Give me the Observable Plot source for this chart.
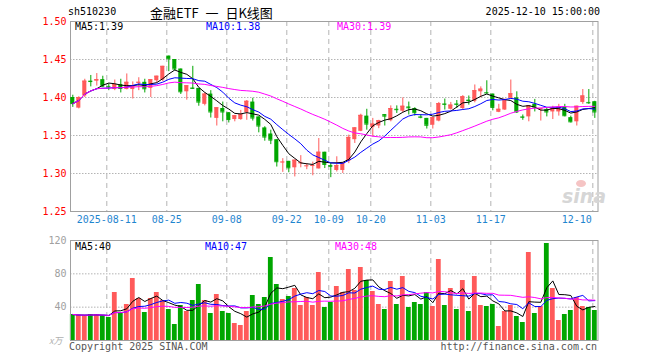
<!DOCTYPE html>
<html><head><meta charset="utf-8">
<script src="https://cdn.jsdelivr.net/npm/d3@7"></script>
<script src="https://cdn.jsdelivr.net/npm/@observablehq/plot@0.6"></script>
<style>
body{margin:0;background:#fff;}
#c{position:relative;width:660px;height:360px;overflow:hidden;background:#fff;}
#c svg{position:absolute;left:0;}
.t{position:absolute;white-space:pre;font-family:"DejaVu Sans Mono",monospace;font-size:10px;line-height:10px;}
</style></head><body><div id="c"></div>
<script>
const dates = ["2025-08-01","2025-08-04","2025-08-05","2025-08-06","2025-08-07","2025-08-08","2025-08-11","2025-08-12","2025-08-13","2025-08-14","2025-08-15","2025-08-18","2025-08-19","2025-08-20","2025-08-21","2025-08-22","2025-08-25","2025-08-26","2025-08-27","2025-08-28","2025-08-29","2025-09-01","2025-09-02","2025-09-03","2025-09-04","2025-09-05","2025-09-08","2025-09-09","2025-09-10","2025-09-11","2025-09-12","2025-09-15","2025-09-16","2025-09-17","2025-09-18","2025-09-19","2025-09-22","2025-09-23","2025-09-24","2025-09-25","2025-09-26","2025-09-29","2025-09-30","2025-10-09","2025-10-10","2025-10-13","2025-10-14","2025-10-15","2025-10-16","2025-10-17","2025-10-20","2025-10-21","2025-10-22","2025-10-23","2025-10-24","2025-10-27","2025-10-28","2025-10-29","2025-10-30","2025-10-31","2025-11-03","2025-11-04","2025-11-05","2025-11-06","2025-11-07","2025-11-10","2025-11-11","2025-11-12","2025-11-13","2025-11-14","2025-11-17","2025-11-18","2025-11-19","2025-11-20","2025-11-21","2025-11-24","2025-11-25","2025-11-26","2025-11-27","2025-11-28","2025-12-01","2025-12-02","2025-12-03","2025-12-04","2025-12-05","2025-12-08","2025-12-09","2025-12-10"];
const opens = [1.400,1.386,1.402,1.4215,1.4215,1.4235,1.4145,1.4105,1.417,1.4105,1.4105,1.419,1.420,1.412,1.422,1.423,1.4545,1.450,1.4375,1.4075,1.4125,1.412,1.391,1.4045,1.3725,1.3855,1.380,1.371,1.371,1.380,1.394,1.3745,1.360,1.352,1.3445,1.3145,1.316,1.3075,1.3135,1.3095,1.310,1.306,1.328,1.3105,1.304,1.304,1.316,1.3445,1.3555,1.3755,1.3605,1.3625,1.3775,1.3695,1.3845,1.382,1.3875,1.3855,1.3745,1.3725,1.3635,1.369,1.3915,1.3845,1.3915,1.3855,1.3965,1.395,1.4075,1.4065,1.4045,1.3805,1.3835,1.399,1.3995,1.3745,1.3745,1.391,1.384,1.384,1.381,1.381,1.387,1.3735,1.368,1.3935,1.3935,1.3945];
const highs = [1.403,1.401,1.424,1.429,1.4315,1.428,1.418,1.423,1.424,1.431,1.4205,1.426,1.424,1.4235,1.428,1.441,1.4545,1.450,1.4375,1.4155,1.441,1.412,1.406,1.409,1.3865,1.394,1.380,1.3765,1.383,1.396,1.399,1.3745,1.3615,1.357,1.3445,1.3195,1.316,1.3175,1.3235,1.313,1.315,1.346,1.328,1.313,1.322,1.3145,1.3505,1.3605,1.378,1.3845,1.3725,1.370,1.3775,1.389,1.389,1.3995,1.394,1.3865,1.3775,1.3725,1.3735,1.3935,1.398,1.3935,1.396,1.4025,1.402,1.4165,1.414,1.422,1.4045,1.391,1.3975,1.423,1.4075,1.377,1.389,1.3975,1.3855,1.3865,1.3885,1.391,1.391,1.3755,1.3885,1.4105,1.4105,1.395];
const lows = [1.387,1.385,1.400,1.414,1.415,1.413,1.409,1.409,1.406,1.410,1.398,1.409,1.406,1.400,1.4195,1.421,1.434,1.435,1.404,1.3965,1.4105,1.3885,1.389,1.373,1.3625,1.368,1.3665,1.368,1.370,1.370,1.369,1.3535,1.3425,1.338,1.3085,1.3015,1.301,1.2955,1.3075,1.305,1.297,1.306,1.3065,1.2945,1.302,1.300,1.313,1.3395,1.355,1.357,1.348,1.359,1.3625,1.368,1.379,1.380,1.377,1.3755,1.372,1.3585,1.3585,1.368,1.3835,1.3835,1.3855,1.3835,1.390,1.393,1.3995,1.4045,1.3825,1.380,1.383,1.3985,1.379,1.370,1.368,1.381,1.369,1.3745,1.371,1.3755,1.3745,1.3665,1.3625,1.391,1.391,1.3725];
const closes = [1.392,1.400,1.4215,1.421,1.4235,1.415,1.414,1.417,1.412,1.420,1.415,1.420,1.4115,1.4235,1.428,1.441,1.451,1.4375,1.4075,1.4155,1.412,1.394,1.4045,1.381,1.3865,1.381,1.371,1.376,1.3775,1.395,1.373,1.3625,1.348,1.344,1.3155,1.315,1.3075,1.3175,1.314,1.310,1.3105,1.328,1.312,1.3095,1.3105,1.3135,1.3475,1.360,1.3765,1.365,1.365,1.3695,1.3755,1.3855,1.384,1.3885,1.3865,1.380,1.374,1.3635,1.3735,1.392,1.391,1.390,1.391,1.401,1.396,1.409,1.411,1.406,1.387,1.3845,1.3975,1.405,1.381,1.374,1.389,1.3875,1.3855,1.381,1.3855,1.387,1.376,1.368,1.3885,1.402,1.393,1.381];
const volumes = [31.2,30,30,31.2,31.2,29.6,27.6,57.6,32.4,43.2,74.4,50.4,33.6,50.4,57.6,48,37.2,19.2,42,34.8,48,67.2,48,32.4,55.2,34.8,32.4,20.4,18,34.8,54,43.2,51.6,99.6,67.2,49.2,52.8,62.4,42,51.6,42,81.6,39.6,45.6,64.8,57.6,85.2,60,87.6,72,58.8,43.2,37.2,70.8,43.2,76.8,39.6,45.6,43.2,57.6,40.8,97.2,42,62.4,37.2,72,34.8,76.8,42,40.8,43.2,16.8,34.8,42,28.8,21.6,105.6,32.4,40.8,116.4,62.4,24,31.2,36,51.6,40.8,39.6,36];
const tickDates = ["2025-08-11","2025-08-25","2025-09-08","2025-09-22","2025-10-09","2025-10-20","2025-11-03","2025-11-17","2025-12-10"];
const tickLabels = ["2025-08-11","08-25","09-08","09-22","10-09","10-20","11-03","11-17","12-10"];
const priceTicks = [1.50,1.45,1.40,1.35,1.30,1.25];
const priceTickLabels = ["1.50","1.45","1.40","1.35","1.30","1.25"];
const priceGrid = [1.45,1.40,1.35,1.30];
const volTicks = [120,80,40];
const volTickLabels = ["120","80","40"];
const volGrid = [80,40];
const code = "sh510230";
const title = "金融ETF 一 日K线图";
const stamp = "2025-12-10 15:00:00";
const priceMALabels = ["MA5:1.39","MA10:1.38","MA30:1.39"];
const volMALabels = ["MA5:40","MA10:47","MA30:48"];
const maPeriods = [5,10,30];

const UP = "#ff5a5a", DOWN = "#00a600", GRID = "#b4b4b4", FRAME = "#a0a0a0";
const MA_COLORS = ["#000000","#0000ff","#ff00ff"];
const rows = dates.map((d,i)=>({i, date:d, open:opens[i], high:highs[i], low:lows[i], close:closes[i], vol:volumes[i]}));
const col = d => d.close >= d.open ? UP : DOWN;
const ticks = tickDates.map((d,j)=>({i: dates.indexOf(d), label: tickLabels[j]}));
const xDomain = [-0.383, 87.53];
const font = "'DejaVu Sans Mono', monospace";

const price = Plot.plot({
  width: 660, height: 230, marginLeft: 70, marginRight: 62.5, marginTop: 21, marginBottom: 19,
  style: {fontFamily: font, fontSize: "10px", background: "transparent"},
  x: {domain: xDomain, axis: null},
  y: {domain: [1.25, 1.50], axis: null},
  marks: [
    Plot.ruleY(priceGrid, {stroke: GRID, strokeDasharray: "1.5,1.5"}),
    Plot.ruleX(ticks, {x: "i", dx: -2, stroke: GRID, strokeDasharray: "5,4"}),
    Plot.frame({stroke: FRAME}),
    Plot.ruleX(rows, {x: "i", y1: "low", y2: "high", stroke: col}),
    Plot.rect(rows, {x1: d => d.i - 0.34, x2: d => d.i + 0.34, y1: "open", y2: "close", fill: col}),
    Plot.ruleY(rows, {y: "close", x1: d => d.i - 0.34, x2: d => d.i + 0.34, stroke: col}),
    ...maPeriods.map((k,j) => Plot.line(rows, Plot.windowY({k, anchor: "end", reduce: "mean"}, {x: "i", y: "close", stroke: MA_COLORS[j], strokeWidth: 1}))),
    Plot.text(priceTicks, {y: d => d, text: (d,j) => priceTickLabels[j], frameAnchor: "left", textAnchor: "end", dx: -4, fill: "#ff0000", fontSize: 10}),
    Plot.text(ticks.slice(0,-1), {x: "i", text: "label", frameAnchor: "bottom", dy: 11, dx: -2, fill: "#1f86cf", fontSize: 10}),
    Plot.text(ticks.slice(-1), {x: "i", text: "label", frameAnchor: "bottom", dy: 11, dx: -3, textAnchor: "end", fill: "#1f86cf", fontSize: 10})
  ]
});
price.style.top = "0px";

const volume = Plot.plot({
  width: 660, height: 120, marginLeft: 70, marginRight: 62.5, marginTop: 10, marginBottom: 10,
  style: {fontFamily: font, fontSize: "10px", background: "transparent"},
  x: {domain: xDomain, axis: null},
  y: {domain: [0, 120], axis: null},
  marks: [
    Plot.ruleY(volGrid, {stroke: GRID, strokeDasharray: "1.5,1.5"}),
    Plot.ruleX(ticks, {x: "i", dx: -2, stroke: GRID, strokeDasharray: "5,4"}),
    Plot.rectY(rows, {x1: d => d.i - 0.4, x2: d => d.i + 0.4, y: "vol", fill: col}),
    ...maPeriods.map((k,j) => Plot.line(rows, Plot.windowY({k, anchor: "end", reduce: "mean"}, {x: "i", y: "vol", stroke: MA_COLORS[j], strokeWidth: 1}))),
    Plot.frame({stroke: FRAME}),
    Plot.text(volTicks, {y: d => d, text: (d,j) => volTickLabels[j], frameAnchor: "left", textAnchor: "end", dx: -4, fill: "#a0a0a0", fontSize: 10})
  ]
});
volume.style.top = "230px";

const c = document.getElementById("c");
c.appendChild(price);
c.appendChild(volume);
function label(text, left, top, color, extra) {
  const e = document.createElement("div");
  e.className = "t"; e.textContent = text;
  e.style.left = left + "px"; e.style.top = top + "px"; e.style.color = color;
  if (extra) Object.assign(e.style, extra);
  c.appendChild(e); return e;
}
label(code, 68, 7, "#000");
label(title, 150, 5, "#000", {fontFamily: "'Noto Sans CJK SC', sans-serif", fontSize: "13px", lineHeight: "15px", wordSpacing: "4px"});
const st = label(stamp, 0, 7, "#000"); st.style.left = "auto"; st.style.right = "60px";
const maX = [75, 206, 337];
priceMALabels.forEach((t,j) => label(t, maX[j], 22, MA_COLORS[j]));
const vmaX = [75, 205, 335];
volMALabels.forEach((t,j) => label(t, vmaX[j], 242, MA_COLORS[j]));
label("Copyright 2025 SINA.COM", 69, 342, "#555");
const url = label("http://finance.sina.com.cn", 0, 342, "#555"); url.style.left = "auto"; url.style.right = "63px";
label("x万", 49, 336, "#b0b0b0", {fontStyle: "italic", fontFamily: "'Noto Sans CJK SC', sans-serif", fontSize: "9px"});
label("sina", 562, 186, "#d6d6d6", {fontFamily: "'DejaVu Sans', sans-serif", fontSize: "19px", lineHeight: "20px", fontStyle: "italic", fontWeight: "bold"});
const eye = document.createElement("div");
Object.assign(eye.style, {position: "absolute", left: "576px", top: "180px", width: "10px", height: "7px", borderRadius: "50%", background: "#f5c4c4"});
c.appendChild(eye);
</script>
</body></html>
